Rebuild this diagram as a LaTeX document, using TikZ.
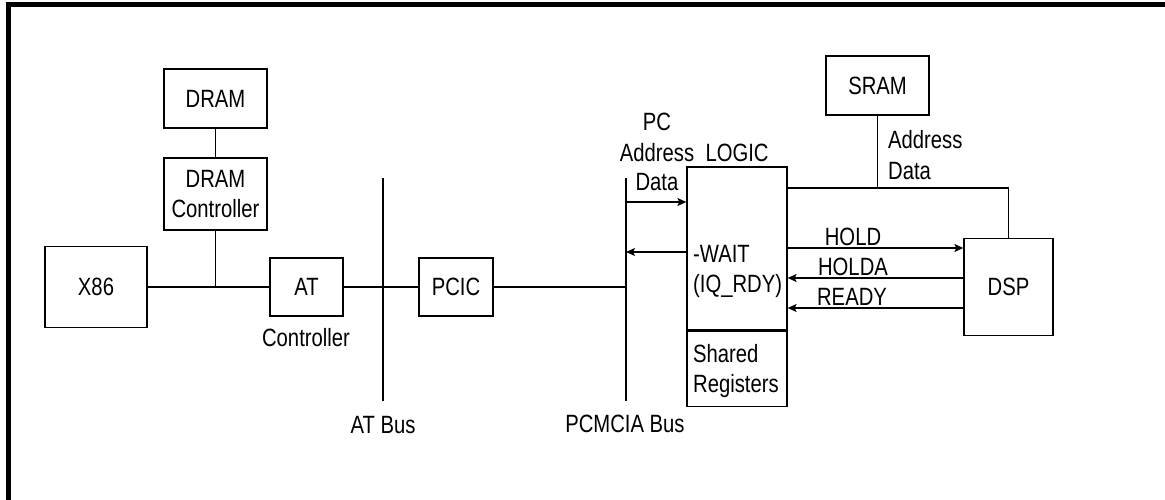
\documentclass[tikz,border=0pt]{standalone}
\usepackage{fontspec}
\setmainfont{Liberation Sans}[FakeStretch=0.81]
\usetikzlibrary{arrows.meta,calc}
\begin{document}
\begin{tikzpicture}[x=1pt,y=-1pt,
  font=\fontsize{25}{30}\selectfont,
  wire/.style={line width=1.3pt},
  arr/.style={wire,-{Stealth[length=9pt,width=8pt,inset=2pt]}},
  blk/.style={draw,line width=1.3pt,inner sep=0pt,align=center},
  lbl/.style={inner sep=0pt,anchor=base},
  lbll/.style={inner sep=0pt,anchor=base west}]
\useasboundingbox (0,0) rectangle (1165,500);
% outer frame (left and top edges)
\draw[line width=5pt] (8.5,500) -- (8.5,4.5) -- (1165,4.5);

% blocks
\node[blk,minimum width=103pt,minimum height=59pt] (dram) at (215.5,98.5) {DRAM};
\node[blk,minimum width=103pt,minimum height=72pt] (dctl) at (215.5,194) {DRAM\\Controller};
\node[blk,minimum width=102pt,minimum height=81pt] (x86) at (96,287) {X86};
\node[blk,minimum width=73pt,minimum height=58pt] (at) at (306.5,287) {AT};
\node[blk,minimum width=74pt,minimum height=58pt] (pcic) at (456,287) {PCIC};
\node[blk,minimum width=100pt,minimum height=163pt] (logic) at (737,248.5) {};
\node[blk,minimum width=100pt,minimum height=75pt,anchor=north] (shr) at (logic.south) {};
\node[blk,minimum width=103pt,minimum height=59pt] (sram) at (877.5,85.5) {SRAM};
\node[blk,minimum width=89pt,minimum height=97pt] (dsp) at (1008.5,287) {DSP};

% buses
\coordinate (atbt) at (383,178);
\coordinate (atbb) at (383,401);
\coordinate (pcbt) at (626,178);
\coordinate (pcbb) at (626,401);
\draw[wire] (atbt) -- (atbb);
\draw[wire] (pcbt) -- (pcbb);

% host side connections
\draw[wire] (dram.south) -- (dctl.north);
\draw[wire] (x86.east) -- (at.west);
\draw[wire] (dctl.south) -- (dctl.south |- x86.east);
\draw[wire] (at.east) -- (pcic.west);
\draw[wire] (pcic.east) -- (pcic.east -| pcbt);

% PCMCIA side
\coordinate (pcin) at (626,202);
\coordinate (wt) at (626,252);
\draw[arr] (pcin) -- (pcin -| logic.west);
\draw[arr] (wt -| logic.west) -- (wt);

% SRAM bus and DSP handshake
\coordinate (tap) at (877.5,188);
\draw[wire] (sram.south) -- (tap);
\draw[wire] (tap -| logic.east) -- (tap -| dsp.north) -- (dsp.north);
\coordinate (hd) at (0,248);
\coordinate (ha) at (0,278);
\coordinate (rd) at (0,308);
\draw[arr] (hd -| logic.east) -- (hd -| dsp.west);
\draw[arr] (ha -| dsp.west) -- (ha -| logic.east);
\draw[arr] (rd -| dsp.west) -- (rd -| logic.east);

% labels
\node[lbl] (tctl) at (306,346) {Controller};
\node[lbl] (tatb) at (383,433) {AT Bus};
\node[lbl] (tpcb) at (625,432) {PCMCIA Bus};
\node[lbl] (tpc1) at (657,131) {PC};
\node[lbl] (tpc2) at (657,161) {Address};
\node[lbl] (tpc3) at (657,190) {Data};
\node[lbl] (tlog) at (737,161) {LOGIC};
\node[lbll] (twait) at (693,262) {-WAIT};
\node[lbll] (tiq) at (693,292) {(IQ\_RDY)};
\node[lbll] (tsh) at (693,362) {Shared};
\node[lbll] (treg) at (693,392) {Registers};
\node[lbll] (tsad) at (888,149) {Address};
\node[lbll] (tsdt) at (888,179) {Data};
\node[lbl] (thd) at (853,245) {HOLD};
\node[lbl] (tha) at (853,275) {HOLDA};
\node[lbl] (trd) at (852,305) {READY};
\end{tikzpicture}
\end{document}
